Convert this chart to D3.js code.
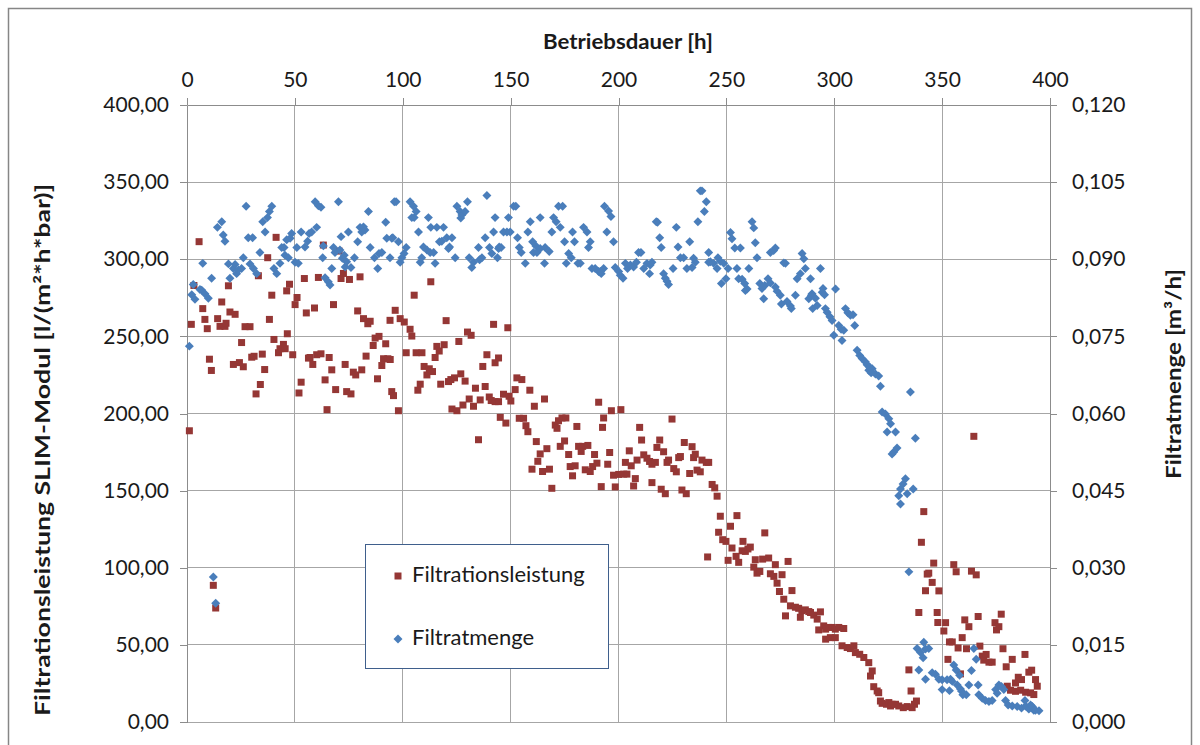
<!DOCTYPE html>
<html>
<head>
<meta charset="utf-8">
<script src="https://cdn.jsdelivr.net/npm/d3@7"></script>
<style>
  body { margin: 0; background: #fff; }
  text { font-family: Lato, "Open Sans", sans-serif; fill: #1a1a1a; }
</style>
</head>
<body>
<svg id="chart" width="1200" height="745"></svg>
<script>
// Axis tick values
const hourTicks = [0, 50, 100, 150, 200, 250, 300, 350, 400];
const leistungTicks = [0, 50, 100, 150, 200, 250, 300, 350, 400];
const mengeTicks = [0, 0.015, 0.03, 0.045, 0.06, 0.075, 0.09, 0.105, 0.12];

// Filtrationsleistung SLIM-Modul: [Betriebsdauer h, l/(m²*h*bar)]
const filtrationsleistung = [
  [1.1,188.8],[2,257.8],[3.2,283],[5.6,311.4],[7.3,268],[8.3,261],[9.4,255],[10.4,235.2],[11.3,227.9],
  [12.2,88.6],[13.3,73.9],[14.2,261.5],[15.3,256.5],[16.1,272.3],[17.6,256.5],[18.1,258.5],[19.2,282.8],
  [19.9,265.8],[21.5,231.8],[22.3,264.3],[24.3,233],[25.3,246],[26.1,230.3],[26.9,256.3],[29.2,256.3],
  [30,236.5],[31.1,237.1],[32,212.7],[33.1,289.3],[34,218.8],[34.9,238.5],[36,228.5],[37.4,301],[38.2,261],
  [39.3,276.7],[40.3,248],[41.3,314.2],[42.4,239.4],[43.1,242],[44.7,244.8],[46.2,279.5],[46.5,251.7],
  [47.5,283.8],[45.5,242],[49,238.1],[50.1,270.6],[51,275.2],[51.9,213.3],[52.9,220.3],[54.4,287.5],
  [55.3,265.2],[56.3,235.9],[57,236.3],[58.3,231.8],[59.1,268.4],[60.1,238.1],[60.9,288.2],[62.1,238.7],
  [63.2,309.2],[64,221.8],[64.9,202.5],[65.9,236.3],[67.1,228.3],[67.9,270.6],[68.9,215.5],[70.5,305.3],
  [71.4,287.5],[72.5,290.8],[73.3,231.8],[74,214.2],[75.3,286.9],[76,212.7],[77.1,226.8],[78.2,225],
  [79.1,266.5],[80.2,288.6],[81,228.3],[81.8,261.5],[83,237.2],[83.8,258.2],[84.9,259.8],[86.3,244.1],
  [87.2,248.9],[88.3,222.5],[89,250],[90.3,231.1],[91.1,235.5],[92.1,245.2],[93.1,235.5],[94.1,260.4],
  [94.9,214.2],[95.7,211.6],[96.5,266.9],[94.2,235],[98,201.8],[98.8,261.5],[100.7,259.3],[101.6,239.4],
  [103.4,254.6],[104.2,250.2],[105.3,276.7],[106.2,239.4],[107,215.1],[108.1,219],[108.9,239.4],
  [109.9,230.5],[111.2,225],[112.3,229],[113,285.4],[113.8,227.2],[115,236.3],[115.8,243.5],[116.9,240.5],
  [117.6,219],[119.2,244.6],[120.1,260.2],[121.2,220.7],[122.3,222],[122.8,202.9],[124,223.1],[125.1,201.8],
  [126,246.7],[126.9,225.7],[127.9,205.5],[128.9,221],[130,252.8],[130.8,209.4],[131.7,250.7],[132.8,204.7],
  [133.7,216.4],[135.1,183],[135.9,208.8],[137.1,230.5],[138.2,217.5],[139,238.1],[140.1,210.7],[141,208.4],
  [142.1,257.8],[142.8,207.7],[142.8,232.9],[144.4,236],[144.4,207.7],[145.2,197.5],[146.7,212.5],
  [147.8,193.8],[148.7,255.6],[149.3,211.2],[150.1,208.1],[152.1,215.5],[152.9,223.1],[154,196.9],
  [155.2,222],[156,196.9],[157.1,192.1],[158,188.2],[158.9,215.1],[159.9,163.9],[161,204.7],[161.9,181.8],
  [162.6,169],[163.7,173.8],[164.8,162.4],[165.7,209.4],[166.8,177.2],[168,163.9],[169.1,151.5],
  [170.7,192.5],[171.5,190.4],[172.2,195.3],[173,178.7],[173.8,197.1],[175,182.2],[175.6,197.1],
  [176.9,173.4],[177.6,165.6],[178.7,159.6],[179.9,166.1],[180.7,191.6],[181.5,178.7],[182.7,175.4],
  [183.4,178.7],[184.6,163.5],[185.8,179.3],[186.9,162.4],[188,165.6],[188.9,173.4],[190,167.8],
  [190.8,207.3],[192,152.6],[192.6,191],[193.1,197.1],[195,167.1],[195.9,174.7],[196.7,201.8],[197.7,160],
  [198.5,152.4],[200.1,160.5],[201.1,202.5],[202.4,160.7],[203.2,168.3],[203.9,160.7],[205,175.8],
  [205.9,166.1],[207,153],[207.8,157.8],[208.6,169.8],[209.8,191],[210.7,182.8],[211.7,173.2],[213.2,171],
  [214.4,168.9],[215.5,167.1],[215.5,155.2],[217.1,168.3],[217.8,178],[219.1,182.8],[219.8,150.9],
  [220.9,175.2],[221.7,148],[222.5,168.3],[223.2,169.8],[224.8,196.4],[225.6,164.3],[226.8,162.2],
  [227.9,171.4],[228.7,172.1],[229.4,150.4],[230.5,181.2],[231.4,148],[233,161.1],[234.1,178.5],
  [234.8,171.4],[235.6,173.6],[236.4,163.3],[237.9,162.2],[238.7,169.8],[240.7,168.3],[241.3,107],
  [241.8,168.3],[243.4,154],[244.6,151.8],[245.7,146.4],[246.4,123],[247.2,133.4],[248.3,118.2],
  [249.8,117.1],[250.8,104.8],[251.9,126.9],[252.6,112.8],[254.5,107.4],[254.9,133.8],[255.7,103.5],
  [257.3,111],[257.7,117.1],[258.8,110.6],[260,112.2],[261.1,113.4],[262.7,100.4],[263.4,105.2],
  [264.2,96.5],[265.5,97.6],[266.8,105.6],[267.8,122.6],[269.6,106.3],[270.4,96.1],[272,94.4],[272.7,102],
  [273.5,90],[274.6,84.6],[275.8,95.5],[276.6,79.6],[277.4,68.8],[278.6,104.1],[279.7,75.3],[280.4,85.2],
  [282,74.4],[283.5,73.7],[284.3,67.9],[285,72.2],[286.6,72.7],[288.2,71.6],[289,71],[290.5,69.3],
  [292.1,66.7],[292.8,59.7],[293.6,71.4],[295.1,62.3],[296,60.2],[296,53.7],[297.5,61.3],[298.2,54.7],
  [299,61.3],[300.5,60.2],[300.5,54.7],[302.1,61.3],[303.6,49.4],[304.4,60.6],[306,48.3],[307.5,47.6],
  [309.1,49.4],[309.8,45],[311.8,43.9],[313.7,41.8],[316,38.5],[316.8,29.8],[317.6,33.1],[318.3,22.9],
  [319.9,20.1],[320.6,19],[321.4,13.6],[322.2,12.1],[324.2,11.5],[325.3,12.6],[326.1,10.4],[326.8,11.5],
  [328.4,11.5],[329.9,10.4],[332,9.3],[333.8,10],[334.6,33.8],[335.6,20.1],[336.1,9.3],[337.2,11.5],
  [338.1,13.6],[339.2,71],[340.4,116.5],[341.5,136.4],[342.3,85.1],[343.1,95.9],[343.8,96.5],[345.4,90.5],
  [346.1,103],[347.7,71],[348,64.5],[348.5,85],[350.8,59],[351.6,64.4],[352.7,40.6],[353.4,51.9],
  [354.7,51.9],[355.4,102],[356.5,97.4],[357.4,48],[358.5,31.2],[359.3,54.7],[360.5,66.2],[361.3,47.5],
  [362.4,61.8],[363.6,97.8],[364.7,185.2],[365.8,95.4],[366.7,68.4],[367.5,49.2],[368.6,42.7],[369.3,40.1],
  [370.4,43.8],[371.7,38.8],[373.2,38.8],[374.5,64.4],[375.2,59.7],[376.3,61.8],[377.4,69.9],[378.2,47.5],
  [379.7,35.8],[380.2,23.2],[381.7,20.6],[382.5,40.6],[384,25.3],[384,19.9],[385.3,29],[386.4,20.6],
  [386.8,27.5],[388.4,43.8],[388.7,19.3],[390.2,32.3],[391,18.9],[391.5,33.6],[392.5,17.8],[393.3,27.5],
  [394.1,23.2]
];

// Filtratmenge: [Betriebsdauer h, m³/h]
const filtratmenge = [
  [1.1,0.0731],[2.2,0.0831],[2.9,0.0851],[3.7,0.0822],[6,0.0841],[6.8,0.0840],[7.3,0.0892],[8.3,0.0833],
  [9.9,0.0824],[11.4,0.0863],[12.2,0.0282],[13.3,0.0231],[14.1,0.0962],[16.1,0.0973],[16.8,0.0947],
  [17.6,0.0935],[19.2,0.0891],[19.9,0.0863],[21.5,0.0882],[22.3,0.0890],[23,0.0872],[23.8,0.0879],
  [25.3,0.0882],[26.1,0.0903],[27.4,0.1003],[28.4,0.0942],[29.2,0.0891],[30.4,0.0942],[30.8,0.0882],
  [32.3,0.0872],[33.8,0.0913],[35.1,0.0973],[36.2,0.0953],[37.3,0.0981],[38.2,0.0993],[39.3,0.1003],
  [40.3,0.0882],[41.6,0.0872],[43.1,0.0892],[43.9,0.0923],[45,0.0923],[45.4,0.0908],[46.2,0.0938],
  [47,0.0903],[47.8,0.0941],[48.5,0.0950],[50.1,0.0894],[50.9,0.0923],[51.6,0.0892],[52.9,0.0953],
  [54.7,0.0924],[55.9,0.0935],[56.6,0.0950],[57.8,0.0953],[59.4,0.1012],[60.1,0.0962],[60.9,0.1004],
  [62.1,0.1001],[62.9,0.0903],[63.2,0.0926],[64,0.0864],[65.5,0.0856],[66.3,0.0850],[67.1,0.0882],
  [67.9,0.0923],[68.6,0.0913],[70.2,0.1012],[70.9,0.0918],[71.4,0.0944],[72,0.0902],[72.9,0.0908],
  [73.3,0.0885],[74,0.0895],[74.8,0.0953],[76,0.0884],[77.6,0.0903],[79.1,0.0934],[80.2,0.0962],
  [81,0.0953],[81.8,0.0963],[82.5,0.0957],[84.1,0.0993],[84.9,0.0923],[86.9,0.0903],[88.4,0.0882],
  [89,0.0911],[90.3,0.0913],[92.1,0.0972],[92.6,0.0941],[94.1,0.0903],[94.9,0.0941],[96.1,0.1012],
  [95.4,0.0942],[96.9,0.1012],[98,0.0934],[98.8,0.0894],[99.6,0.0903],[100.6,0.0911],[101.6,0.0923],
  [103.4,0.1012],[104.2,0.0981],[105,0.1003],[105.3,0.0981],[106.2,0.0993],[107.3,0.0953],[108.1,0.0894],
  [108.8,0.0903],[109.6,0.0924],[111.2,0.0918],[111.9,0.0981],[112.7,0.0913],[113,0.0962],[114.3,0.0913],
  [115,0.0892],[115.8,0.0962],[117,0.0934],[118.1,0.0935],[118.9,0.0962],[120.4,0.0942],[121.2,0.0921],
  [121.7,0.0924],[122.8,0.0942],[124.3,0.0903],[125.1,0.1003],[126.6,0.0993],[126.9,0.0980],
  [127.4,0.0986],[128.9,0.0993],[130,0.1012],[130.8,0.0903],[132,0.0884],[132.8,0.0894],[135.1,0.0923],
  [135.6,0.0899],[136.7,0.0903],[138.2,0.0942],[139,0.1024],[140.2,0.0923],[141.3,0.0911],[142.1,0.0953],
  [142.8,0.0981],[143.9,0.0903],[144.4,0.0921],[144.7,0.0924],[145.6,0.0923],[146.7,0.0953],
  [148.3,0.0953],[149,0.0981],[149.8,0.0953],[151.4,0.1003],[152.4,0.1003],[153.2,0.0942],[154,0.0923],
  [154.9,0.0913],[156.8,0.0892],[158,0.0953],[159.1,0.0973],[160.2,0.0934],[160.6,0.0913],[161.7,0.0926],
  [162.2,0.0913],[163.7,0.0981],[163.7,0.0921],[165.7,0.0892],[166,0.0923],[167.9,0.0915],[169.1,0.0953],
  [169.9,0.0981],[171.1,0.0973],[172.2,0.1003],[173,0.0962],[174.1,0.1003],[175,0.0934],[175.8,0.0892],
  [176.9,0.0911],[178.1,0.0903],[178.7,0.0953],[179.6,0.0934],[181.2,0.0892],[182.3,0.0892],
  [183.8,0.0962],[185.4,0.0953],[186.1,0.0923],[186.9,0.0934],[187.7,0.0882],[189.2,0.0882],
  [190.8,0.0876],[192,0.0872],[193.1,0.0882],[193.5,0.1003],[191.6,0.0876],[195.4,0.0994],[196.5,0.0983],
  [194.6,0.0953],[197.7,0.0934],[198.5,0.0884],[200.1,0.0876],[200.8,0.0869],[202.1,0.0863],
  [203.2,0.0892],[204.2,0.0882],[205.5,0.0889],[207,0.0885],[208.3,0.0894],[209.3,0.0913],[210.4,0.0913],
  [211.7,0.0882],[213.2,0.0892],[214.4,0.0872],[214.7,0.0889],[215.5,0.0894],[217.5,0.0973],
  [218.1,0.0972],[219.1,0.0942],[219.8,0.0923],[220.9,0.0872],[221.7,0.0863],[222.5,0.0857],
  [223.2,0.0851],[225.3,0.0882],[226.8,0.0962],[227.6,0.0924],[228.7,0.0903],[230.2,0.0903],
  [231.7,0.0882],[233,0.0934],[234.1,0.0884],[234.8,0.0902],[235.6,0.0894],[236.8,0.0973],[237.9,0.1033],
  [238.7,0.1033],[239.8,0.0993],[240.7,0.1012],[241.8,0.0913],[241.8,0.0894],[242.6,0.0895],
  [244.1,0.0892],[245.7,0.0882],[246.1,0.0903],[247.2,0.0896],[247.7,0.0853],[248.8,0.0892],
  [249.8,0.0862],[250.8,0.0882],[251.9,0.0952],[252.6,0.0940],[253.9,0.0922],[254.9,0.0882],
  [255.7,0.0862],[256.5,0.0922],[257.3,0.0861],[258.5,0.0853],[258.8,0.0839],[259.6,0.0842],
  [260.4,0.0882],[261.9,0.0973],[262.7,0.0961],[263.4,0.0932],[264.2,0.0903],[265.5,0.0853],
  [266.5,0.0843],[267.3,0.0823],[267.8,0.0849],[269.3,0.0862],[270.4,0.0913],[270.4,0.0854],
  [271.9,0.0917],[272.7,0.0922],[272.7,0.0846],[273.5,0.0838],[275,0.0830],[275.5,0.0813],[276.6,0.0893],
  [277.4,0.0892],[278.1,0.0818],[279.7,0.0809],[280.1,0.0804],[282,0.0830],[282.8,0.0862],[284.3,0.0872],
  [285.1,0.0911],[285.9,0.0901],[286.6,0.0882],[288.2,0.0823],[289.4,0.0830],[290,0.0804],[289,0.0862],
  [289.7,0.0833],[291.3,0.0824],[292.1,0.0810],[293.6,0.0882],[294.4,0.0836],[294.8,0.0843],
  [295.5,0.0831],[295.9,0.0804],[296.7,0.0797],[298,0.0788],[299,0.0781],[299.8,0.0752],[300.6,0.0842],
  [302.1,0.0771],[303.2,0.0764],[303.6,0.0742],[304.4,0.0762],[305.2,0.0804],[306.3,0.0796],
  [307.5,0.0791],[308.7,0.0792],[309.5,0.0771],[310.6,0.0723],[311.8,0.0713],[312.9,0.0707],
  [314.5,0.0700],[315.2,0.0695],[316,0.0684],[316.5,0.0690],[317.1,0.0679],[317.6,0.0687],[319.1,0.0677],
  [320.6,0.0673],[321.4,0.0653],[322.2,0.0603],[323.7,0.0599],[324.5,0.0564],[325.3,0.0590],
  [326.1,0.0580],[326.8,0.0521],[327.6,0.0525],[328.4,0.0564],[329.1,0.0533],[329.9,0.0440],
  [330.7,0.0453],[330.7,0.0424],[331.9,0.0463],[333,0.0473],[333.8,0.0444],[334.6,0.0292],[335.3,0.0642],
  [336.6,0.0453],[337.6,0.0552],[338.4,0.0143],[339.2,0.0101],[340,0.0135],[341.2,0.0125],[341.5,0.0155],
  [342.3,0.0142],[342.3,0.0083],[343.8,0.0143],[345.4,0.0096],[346.9,0.0093],[348.5,0.0083],
  [350,0.0082],[352.3,0.0082],[353.9,0.0083],[354.7,0.0079],[355.4,0.0111],[356.5,0.0101],[358.1,0.0091],
  [350,0.0063],[353.4,0.0061],[357,0.0072],[358.5,0.0064],[359,0.0060],[359.6,0.0053],[361.2,0.0053],
  [362.4,0.0072],[363.6,0.0100],[364.7,0.0143],[365.8,0.0122],[366.7,0.0072],[367,0.0053],[368.6,0.0046],
  [370.1,0.0042],[371.7,0.0040],[373.2,0.0042],[374.8,0.0063],[375.5,0.0056],[376.3,0.0072],
  [377.5,0.0069],[378.6,0.0063],[379.4,0.0042],[380.6,0.0033],[382.5,0.0031],[384.8,0.0030],
  [386.8,0.0027],[388.4,0.0042],[388.7,0.0031],[390.2,0.0025],[391,0.0033],[391.8,0.0030],[392.5,0.0023],
  [393.3,0.0023],[394.9,0.0022]
];

const seriesNames = ["Filtrationsleistung", "Filtratmenge"];
const colors = { leistung: "#953735", menge: "#4A7EBB" };

const svg = d3.select("#chart");
const plot = { left: 187, right: 1050, top: 105, bottom: 722 };

const x = d3.scaleLinear().domain([0, 400]).range([plot.left, plot.right]);
const yL = d3.scaleLinear().domain([0, 400]).range([plot.bottom, plot.top]);
const yR = d3.scaleLinear().domain([0, 0.12]).range([plot.bottom, plot.top]);

const comma = (fmt) => (d) => d3.format(fmt)(d).replace(".", ",");

// Chart frame
svg.append("rect")
  .attr("x", 8.5).attr("y", 8.5).attr("width", 1183).attr("height", 800)
  .attr("fill", "#fff").attr("stroke", "#868686").attr("stroke-width", 1.5);

// Gridlines
const grid = svg.append("g").attr("stroke", "#a6a6a6").attr("stroke-width", 1).attr("shape-rendering", "crispEdges");
grid.selectAll("line.h").data(leistungTicks).join("line")
  .attr("x1", plot.left).attr("x2", plot.right)
  .attr("y1", d => yL(d)).attr("y2", d => yL(d));
grid.selectAll("line.v").data(hourTicks).join("line")
  .attr("y1", plot.top).attr("y2", plot.bottom)
  .attr("x1", d => x(d)).attr("x2", d => x(d));

function styleAxis(g) {
  g.selectAll("path, line").attr("stroke", "#8c8c8c").attr("shape-rendering", "crispEdges");
  g.selectAll("text").attr("font-size", 21).attr("fill", "#1a1a1a")
    .style("font-family", "Lato, 'Open Sans', sans-serif");
}

// Top x axis
svg.append("g").attr("transform", `translate(0,${plot.top})`)
  .call(d3.axisTop(x).tickValues(hourTicks).tickFormat(d3.format("d")).tickSize(7).tickSizeOuter(0).tickPadding(11))
  .call(styleAxis);

// Left axis
svg.append("g").attr("transform", `translate(${plot.left},0)`)
  .call(d3.axisLeft(yL).tickValues(leistungTicks).tickFormat(comma(".2f")).tickSize(7).tickSizeOuter(0).tickPadding(11))
  .call(styleAxis);

// Right axis
svg.append("g").attr("transform", `translate(${plot.right},0)`)
  .call(d3.axisRight(yR).tickValues(mengeTicks).tickFormat(comma(".3f")).tickSize(7).tickSizeOuter(0).tickPadding(15))
  .call(styleAxis);

// Axis titles
function title(textValue, transform, length) {
  svg.append("text").attr("transform", transform)
    .attr("text-anchor", "middle").attr("dominant-baseline", "middle")
    .attr("font-size", 21).attr("font-weight", "bold")
    .attr("textLength", length).attr("lengthAdjust", "spacingAndGlyphs")
    .text(textValue);
}
title("Betriebsdauer [h]", "translate(628,44)", 170);
title("Filtrationsleistung SLIM-Modul [l/(m²*h*bar)]", "translate(45,450) rotate(-90)", 532);
title("Filtratmenge [m³/h]", "translate(1176,374) rotate(-90)", 210);

// Markers
const square = d3.symbol(d3.symbolSquare, 49);
const diamond = d3.symbol(d3.symbolSquare, 40);

svg.append("g").selectAll("path").data(filtrationsleistung).join("path")
  .attr("d", square)
  .attr("transform", d => `translate(${x(d[0])},${yL(d[1])})`)
  .attr("fill", colors.leistung);

svg.append("g").selectAll("path").data(filtratmenge).join("path")
  .attr("d", diamond)
  .attr("transform", d => `translate(${x(d[0])},${yR(d[1])}) rotate(45)`)
  .attr("fill", colors.menge);

// Legend
const legend = svg.append("g");
legend.append("rect").attr("x", 365.5).attr("y", 544.5).attr("width", 243).attr("height", 124)
  .attr("fill", "#fff").attr("stroke", "#3F5F8C").attr("stroke-width", 1);
legend.append("path").attr("d", square).attr("transform", "translate(398,576)").attr("fill", colors.leistung);
legend.append("path").attr("d", diamond).attr("transform", "translate(398,639) rotate(45)").attr("fill", colors.menge);
legend.append("text").attr("x", 412).attr("y", 576).attr("dominant-baseline", "middle")
  .attr("font-size", 22).text(seriesNames[0]);
legend.append("text").attr("x", 412).attr("y", 639).attr("dominant-baseline", "middle")
  .attr("font-size", 22).text(seriesNames[1]);
</script>
</body>
</html>
